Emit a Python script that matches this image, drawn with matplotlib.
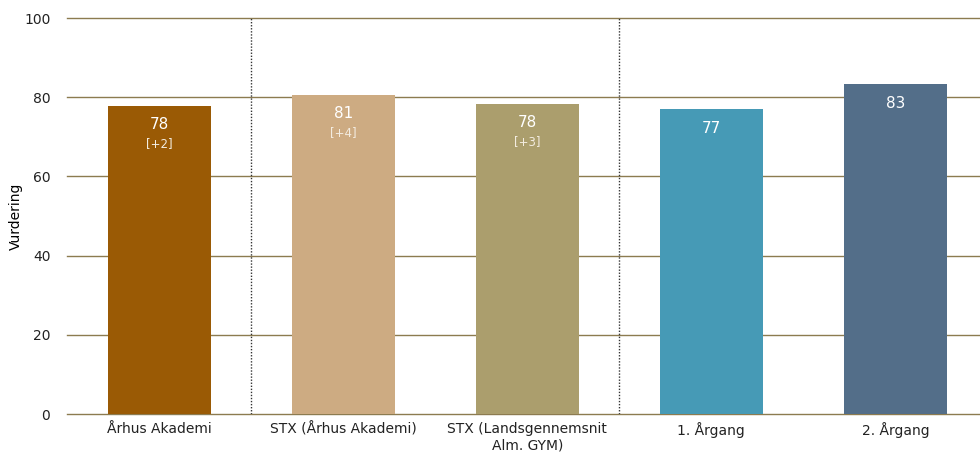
import matplotlib
matplotlib.use("Agg")
import matplotlib.pyplot as plt

categories = ["Århus Akademi", "STX (Århus Akademi)", "STX (Landsgennemsnit\nAlm. GYM)", "1. Årgang", "2. Årgang"]
values = [77.8, 80.6, 78.3, 77.0, 83.3]
value_labels = ["78", "81", "78", "77", "83"]
delta_labels = ["[+2]", "[+4]", "[+3]", "", ""]
colors = ["#9A5A05", "#CDAB82", "#AB9E6D", "#469AB6", "#536E89"]
yticks = [0, 20, 40, 60, 80, 100]

plt.rcParams['font.family'] = ['DejaVu Sans']
fig = plt.figure(figsize=(9.8, 4.59), dpi=100)
ax = fig.add_axes([67/980, 1-414/459, (980-67)/980, (414-18)/459])

x = list(range(len(categories)))
bars = ax.bar(x, values, width=0.56, color=colors, zorder=3)
ax.set_xlim(-0.5, 4.5 - 7.5/184)
ax.set_ylim(0, 100)
ax.set_yticks(yticks)
ax.set_xticks(x)
ax.set_xticklabels(categories, fontsize=10)
ax.tick_params(axis='both', length=0, labelsize=10, colors='#222222')
ax.tick_params(axis='x', pad=6)
ax.tick_params(axis='y', pad=12)
for s in ax.spines.values():
    s.set_visible(False)
ax.yaxis.grid(True, color='#8C7B50', linewidth=1.0, zorder=1)
for gl in ax.get_ygridlines():
    gl.set_clip_on(False)
ax.set_axisbelow(True)
ax.set_ylabel("Vurdering", fontsize=10)
ax.yaxis.set_label_coords((23 - 67) / 913, 0.5)
for xv in [0.5, 2.5]:
    ax.axvline(xv, color='#333333', linestyle=(0, (1, 1.2)), linewidth=1.0, zorder=2)

for xi, v, vl, dl in zip(x, values, value_labels, delta_labels):
    ax.annotate(vl, (xi, v), xytext=(0, -19), textcoords='offset pixels',
                ha='center', va='center', color='white', fontsize=11, zorder=4)
    if dl:
        ax.annotate(dl, (xi, v), xytext=(0, -38), textcoords='offset pixels',
                    ha='center', va='center', color='#f3ece0', fontsize=8.5, zorder=4)

fig.savefig("out.png", dpi=100)
